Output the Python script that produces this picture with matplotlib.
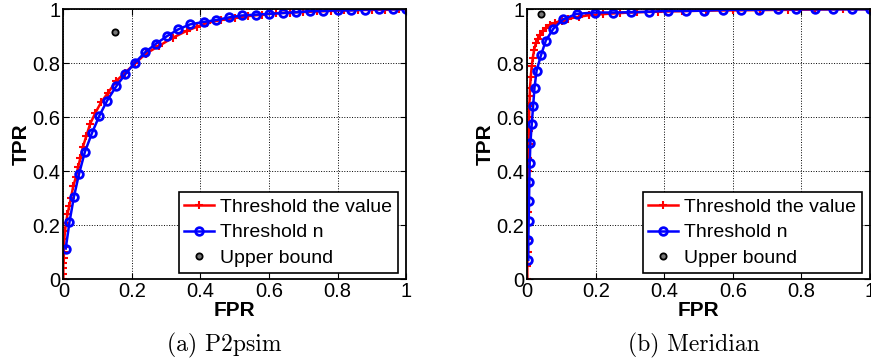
import matplotlib
matplotlib.use("Agg")
import matplotlib.pyplot as plt

# P2psim (a)
p2p_value_fpr = [0, 0, 0, 0, 0.001, 0.001, 0.002, 0.003, 0.005, 0.008, 0.012, 0.017, 0.022, 0.029,
                 0.037, 0.043, 0.05, 0.057, 0.067, 0.078, 0.093, 0.11, 0.13, 0.155, 0.18, 0.21, 0.24,
                 0.28, 0.32, 0.36, 0.39, 0.42, 0.46, 0.50, 0.54, 0.58, 0.62, 0.66, 0.70, 0.74, 0.78,
                 0.82, 0.86, 0.90, 0.94, 0.98, 1.0]
p2p_value_tpr = [0, 0.02, 0.04, 0.06, 0.08, 0.10, 0.12, 0.15, 0.18, 0.21, 0.24, 0.27, 0.30, 0.345,
                 0.38, 0.415, 0.45, 0.49, 0.53, 0.575, 0.615, 0.655, 0.69, 0.735, 0.765, 0.80, 0.835,
                 0.865, 0.895, 0.92, 0.935, 0.95, 0.96, 0.968, 0.975, 0.98, 0.985, 0.988, 0.99, 0.992,
                 0.994, 0.996, 0.997, 0.998, 0.999, 1.0, 1.0]
p2p_n_fpr = [0.007, 0.018, 0.031, 0.046, 0.063, 0.084, 0.105, 0.128, 0.154, 0.181, 0.209, 0.239,
             0.270, 0.302, 0.336, 0.370, 0.409, 0.446, 0.484, 0.521, 0.561, 0.600, 0.640, 0.680,
             0.720, 0.759, 0.800, 0.840, 0.880, 0.920, 0.961, 1.0]
p2p_n_tpr = [0.114, 0.212, 0.306, 0.391, 0.472, 0.543, 0.605, 0.662, 0.714, 0.760, 0.802, 0.841,
             0.872, 0.900, 0.926, 0.944, 0.953, 0.960, 0.970, 0.977, 0.980, 0.983, 0.986, 0.989,
             0.993, 0.994, 0.996, 0.996, 0.999, 1.0, 1.0, 1.0]
p2p_bound = (0.151, 0.916)

# Meridian (b)
mer_value_fpr = [0, 0, 0.001, 0.001, 0.001, 0.002, 0.002, 0.002, 0.003, 0.003, 0.004, 0.004, 0.005,
                 0.006, 0.007, 0.008, 0.010, 0.013, 0.016, 0.020, 0.025, 0.030, 0.037, 0.045, 0.055,
                 0.065, 0.08, 0.10, 0.12, 0.15, 0.18, 0.22, 0.27, 0.32, 0.38, 0.45, 0.52, 0.60, 0.68,
                 0.76, 0.84, 0.92, 1.0]
mer_value_tpr = [0, 0.05, 0.10, 0.15, 0.20, 0.25, 0.30, 0.35, 0.40, 0.45, 0.50, 0.55, 0.60, 0.64,
                 0.68, 0.71, 0.75, 0.79, 0.82, 0.85, 0.875, 0.89, 0.905, 0.918, 0.93, 0.94, 0.95,
                 0.958, 0.965, 0.972, 0.978, 0.982, 0.986, 0.989, 0.991, 0.993, 0.995, 0.996, 0.997,
                 0.998, 0.999, 1.0, 1.0]
mer_n_fpr = [0.003, 0.003, 0.004, 0.005, 0.006, 0.007, 0.009, 0.013, 0.017, 0.021, 0.027, 0.040,
             0.054, 0.076, 0.105, 0.144, 0.197, 0.249, 0.304, 0.356, 0.411, 0.463, 0.517, 0.570,
             0.624, 0.677, 0.731, 0.784, 0.839, 0.893, 0.947, 1.0]
mer_n_tpr = [0.072, 0.146, 0.217, 0.289, 0.362, 0.432, 0.504, 0.575, 0.642, 0.709, 0.772, 0.830,
             0.884, 0.928, 0.963, 0.983, 0.988, 0.988, 0.989, 0.991, 0.994, 0.994, 0.995, 0.998,
             0.998, 0.998, 1.0, 1.0, 1.0, 1.0, 1.0, 1.0]
mer_bound = (0.040, 0.983)

ticks = [0, 0.2, 0.4, 0.6, 0.8, 1]
tick_labels = ["0", "0.2", "0.4", "0.6", "0.8", "1"]
captions = ["(a) P2psim", "(b) Meridian"]
caption_x = [0.258, 0.797]

plt.rcParams["font.family"] = ["Liberation Sans", "DejaVu Sans"]

fig = plt.figure(figsize=(8.71, 3.62), dpi=100)
ax_l = fig.add_axes([0.0727, 0.2285, 0.3935, 0.7459])
ax_r = fig.add_axes([0.6054, 0.2285, 0.3935, 0.7459])

panels = [
    (ax_l, p2p_value_fpr, p2p_value_tpr, p2p_n_fpr, p2p_n_tpr, p2p_bound),
    (ax_r, mer_value_fpr, mer_value_tpr, mer_n_fpr, mer_n_tpr, mer_bound),
]

for i, (ax, vx, vy, nx, ny, ub) in enumerate(panels):
    ax.plot(vx, vy, color="red", marker="+", ms=6, mew=1.5, lw=1.8, label="Threshold the value")
    ax.plot(nx, ny, color="blue", marker="o", ms=5.5, mew=2.0, mfc="none", lw=1.8, label="Threshold n")
    ax.plot([ub[0]], [ub[1]], ls="none", marker="o", ms=4.5, mec="black", mew=1.3, mfc="#777777",
            label="Upper bound")
    ax.set_xlim(0, 1)
    ax.set_ylim(0, 1)
    ax.set_xticks(ticks)
    ax.set_xticklabels(tick_labels)
    ax.set_yticks(ticks)
    ax.set_yticklabels(tick_labels)
    ax.tick_params(direction="in", length=4, width=0.8, top=True, right=True, labelsize=14.5, pad=2)
    ax.grid(True, color="black", ls=":", lw=0.7)
    for s in ax.spines.values():
        s.set_linewidth(1.3)
    ax.set_xlabel("FPR", fontsize=15, fontweight="bold", labelpad=0)
    ax.set_ylabel("TPR", fontsize=15, fontweight="bold", labelpad=1)
    leg = ax.legend(loc="lower right", bbox_to_anchor=(0.977, 0.023), fontsize=14, fancybox=False,
                    framealpha=1, edgecolor="black", borderaxespad=0, handlelength=1.5,
                    handletextpad=0.35, labelspacing=0.42, borderpad=0.3)
    leg.get_frame().set_linewidth(1.2)
    fig.text(caption_x[i], 0.047, captions[i], ha="center", va="center", fontsize=17, family="cmr10")

fig.savefig("out.png", dpi=100)
